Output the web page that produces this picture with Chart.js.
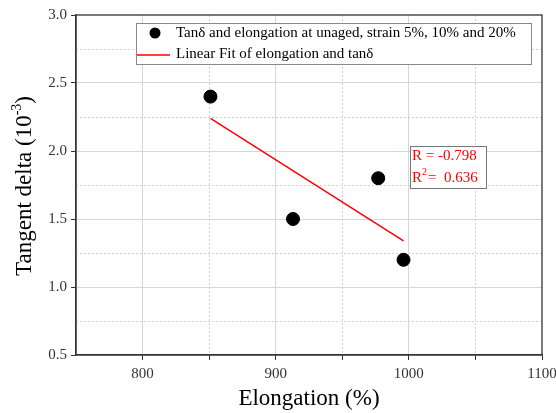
<!DOCTYPE html>
<html>
<head>
<meta charset="utf-8">
<script src="https://cdn.jsdelivr.net/npm/chart.js@4.4.1/dist/chart.umd.min.js"></script>
<style>
  html, body { margin: 0; padding: 0; background: #fff; }
  #wrap { width: 556px; height: 413px; }
</style>
</head>
<body>
<div id="wrap"><canvas id="chart" width="556" height="413"></canvas></div>
<script>
// data
const elongation = [851, 913, 977, 996];
const tanDelta = [2.4, 1.5, 1.8, 1.2];
const fitX = [851, 996];
const fitY = [2.24, 1.34];
const xTicks = [800, 900, 1000, 1100];
const yTicks = [0.5, 1.0, 1.5, 2.0, 2.5, 3.0];
const fitStats = ['R = -0.798', '0.636'];

const serif = '"Liberation Serif", "Times New Roman", serif';

// minor dashed grid + frame
const frame = {
  id: 'frame',
  beforeDatasetsDraw(chart) {
    const { ctx, chartArea: a, scales: { x, y } } = chart;
    ctx.save();
    ctx.strokeStyle = '#d0d0d0';
    ctx.lineWidth = 1;
    ctx.setLineDash([2, 2]);
    for (let v = 850; v < 1100; v += 100) {
      const px = Math.round(x.getPixelForValue(v)) + 0.5;
      ctx.beginPath(); ctx.moveTo(px, a.top); ctx.lineTo(px, a.bottom); ctx.stroke();
    }
    for (let v = 0.75; v < 3; v += 0.5) {
      const py = Math.round(y.getPixelForValue(v)) + 0.5;
      ctx.beginPath(); ctx.moveTo(a.left, py); ctx.lineTo(a.right, py); ctx.stroke();
    }
    ctx.restore();
  },
  afterDraw(chart) {
    const { ctx, chartArea: a } = chart;
    ctx.save();
    ctx.strokeStyle = '#333';
    ctx.lineWidth = 1.3;
    ctx.strokeRect(a.left, a.top, a.right - a.left, a.bottom - a.top);

    // legend box
    const ds = chart.data.datasets;
    ctx.fillStyle = '#fff';
    ctx.fillRect(136, 23, 395, 41);
    ctx.strokeStyle = '#888';
    ctx.lineWidth = 1;
    ctx.strokeRect(136.5, 23.5, 395, 41);
    ctx.fillStyle = '#000';
    ctx.beginPath(); ctx.arc(155, 33, 5.5, 0, Math.PI * 2); ctx.fill();
    ctx.strokeStyle = '#ff0000';
    ctx.lineWidth = 1.5;
    ctx.beginPath(); ctx.moveTo(137, 55); ctx.lineTo(170, 55); ctx.stroke();
    ctx.font = '15px ' + serif;
    ctx.fillStyle = '#000';
    ctx.textBaseline = 'middle';
    ctx.fillText(ds[0].label, 176, 33);
    ctx.fillText(ds[1].label, 176, 54);

    // fit statistics box
    ctx.fillStyle = '#fff';
    ctx.fillRect(410, 146, 76, 42);
    ctx.strokeStyle = '#777';
    ctx.lineWidth = 1;
    ctx.strokeRect(410.5, 146.5, 76, 42);
    ctx.fillStyle = '#ff0000';
    ctx.font = '15px ' + serif;
    ctx.fillText(fitStats[0], 412, 156);
    ctx.fillText('R', 412, 178);
    const rw = ctx.measureText('R').width;
    ctx.font = '10px ' + serif;
    ctx.fillText('2', 412 + rw, 172);
    ctx.font = '15px ' + serif;
    ctx.fillText('=  ' + fitStats[1], 412 + rw + 6, 178);

    // y title with superscript
    ctx.translate(23, 186);
    ctx.rotate(-Math.PI / 2);
    ctx.fillStyle = '#000';
    const p1 = 'Tangent delta (10', p2 = '-3', p3 = ')';
    ctx.font = '23px ' + serif; const w1 = ctx.measureText(p1).width;
    ctx.font = '14px ' + serif; const w2 = ctx.measureText(p2).width;
    ctx.font = '23px ' + serif; const w3 = ctx.measureText(p3).width;
    let sx = -(w1 + w2 + w3) / 2;
    ctx.textBaseline = 'alphabetic';
    ctx.fillText(p1, sx, 8); sx += w1;
    ctx.font = '14px ' + serif; ctx.fillText(p2, sx, -2); sx += w2;
    ctx.font = '23px ' + serif; ctx.fillText(p3, sx, 8);
    ctx.restore();
  }
};

new Chart(document.getElementById('chart'), {
  type: 'scatter',
  data: {
    datasets: [{
      label: 'Tanδ and elongation at unaged, strain 5%, 10% and 20%',
      data: elongation.map((v, i) => ({ x: v, y: tanDelta[i] })),
      backgroundColor: '#000',
      borderColor: '#000',
      pointRadius: 6.5,
      pointHoverRadius: 6.5
    }, {
      type: 'line',
      label: 'Linear Fit of elongation and tanδ',
      data: fitX.map((v, i) => ({ x: v, y: fitY[i] })),
      borderColor: '#ff0000',
      borderWidth: 1.5,
      pointRadius: 0,
      fill: false
    }]
  },
  options: {
    responsive: false,
    animation: false,
    layout: { padding: { left: 0, top: 15, right: 14, bottom: 0 } },
    plugins: { legend: { display: false }, tooltip: { enabled: false } },
    scales: {
      x: {
        type: 'linear',
        min: 750, max: 1100,
        afterFit(s) { s.height = 58; s.paddingRight = 0; s.paddingLeft = 0; },
        afterBuildTicks(s) { s.ticks = [750, 850, 950, 1050].concat(xTicks).sort((a, b) => a - b).map(v => ({ value: v })); },
        ticks: {
          font: { family: serif, size: 15 }, color: '#333', padding: 5,
          callback: v => xTicks.includes(v) ? String(v) : ''
        },
        grid: {
          color: c => (c.tick && xTicks.includes(c.tick.value) && c.tick.value !== 1100) ? '#d6d6d6' : 'rgba(0,0,0,0)',
          tickColor: c => (c.tick && c.tick.value === 750) ? 'rgba(0,0,0,0)' : '#333',
          tickLength: 5
        },
        border: { color: '#333', width: 1.3 },
        title: { display: true, text: 'Elongation (%)', font: { family: serif, size: 23 }, color: '#000', padding: { top: 4, bottom: 0 } }
      },
      y: {
        min: 0.5, max: 3.0,
        afterFit(s) { s.width = 76; s.paddingTop = 0; s.paddingBottom = 0; },
        afterBuildTicks(s) { s.ticks = yTicks.map(v => ({ value: v })); },
        ticks: {
          font: { family: serif, size: 15 }, color: '#333', padding: 4,
          callback: v => v.toFixed(1)
        },
        grid: {
          color: c => (c.tick && c.tick.value > 0.5 && c.tick.value < 3) ? '#d6d6d6' : 'rgba(0,0,0,0)',
          tickColor: '#333',
          tickLength: 5
        },
        border: { color: '#333', width: 1.3 }
      }
    }
  },
  plugins: [frame]
});
</script>
</body>
</html>
